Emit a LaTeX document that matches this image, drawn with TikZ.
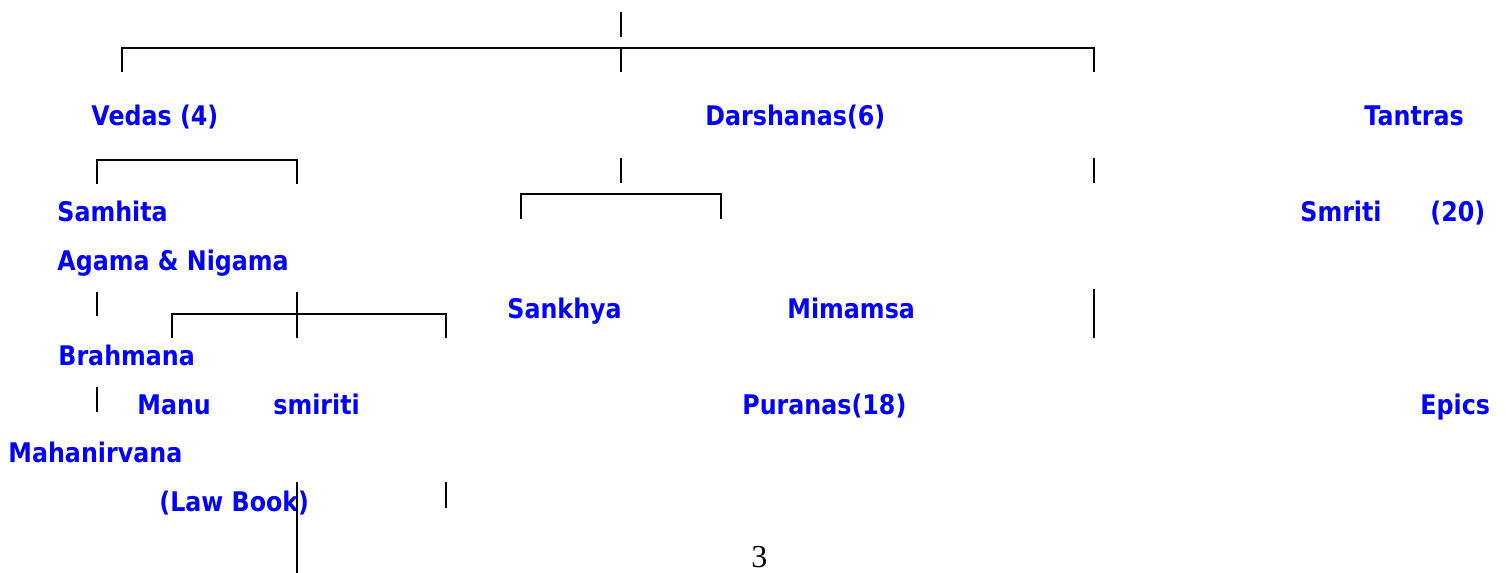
\documentclass[tikz,border=0pt]{standalone}
\usepackage{fontspec}
\newfontfamily\lblfont{DejaVu Sans}[FakeStretch=0.88]
\newfontfamily\pagefont{Liberation Serif}
\tikzset{
    % text styles
    term/.style = {anchor=base west, inner sep=0pt, text=blue,
        font=\lblfont\bfseries\fontsize{13.5}{16}\selectfont},
    folio/.style = {anchor=base west, inner sep=0pt,
        font=\pagefont\fontsize{16}{18}\selectfont},
    % line style
    rule/.style = {line width=0.9pt, black}
}
\begin{document}
\begin{tikzpicture}[x=0.5pt, y=-0.5pt]
        \useasboundingbox (0,0) rectangle (1506,573);

        % first level
        \node[term] (vedas) at (91,125) {Vedas (4)};
        \node[term] (darsh) at (705,125) {Darshanas(6)};
        \node[term] (tantras) at (1364,125) {Tantras};

        % second level
        \node[term] (samhita) at (57,221) {Samhita};
        \node[term] (smriti) at (1300,221) {Smriti};
        \node[term] (twenty) at (1430,221) {(20)};
        \node[term] (agama) at (57,270) {Agama \& Nigama};
        \node[term] (sankhya) at (507,318) {Sankhya};
        \node[term] (mimamsa) at (787,318) {Mimamsa};
        \node[term] (brahmana) at (58,365) {Brahmana};
        \node[term] (manu) at (137,414) {Manu};
        \node[term] (smiriti) at (273,414) {smiriti};
        \node[term] (puranas) at (742,414) {Puranas(18)};
        \node[term] (epics) at (1420,414) {Epics};
        \node[term] (mahanir) at (8,462) {Mahanirvana};
        \node[term] (lawbook) at (159,511) {(Law Book)};

        % page number
        \node[folio] (page) at (751,567) {3};

        % tree lines
        \draw[rule] (621,12) -- (621,37);
        \draw[rule] (122,72) |- (1094,48) -- (1094,72);
        \draw[rule] (621,48) -- (621,72);
        \draw[rule] (97,184) |- (297,160) -- (297,184);
        \draw[rule] (621,158) -- (621,183);
        \draw[rule] (1094,158) -- (1094,183);
        \draw[rule] (521,219) |- (721,194) -- (721,219);
        \draw[rule] (97,292) -- (97,316);
        \draw[rule] (297,292) -- (297,338);
        \draw[rule] (1094,289) -- (1094,338);
        \draw[rule] (172,338) |- (446,314) -- (446,338);
        \draw[rule] (97,387) -- (97,412);
        \draw[rule] (297,482) -- (297,573);
        \draw[rule] (446,482) -- (446,508);

    \end{tikzpicture}
\end{document}
